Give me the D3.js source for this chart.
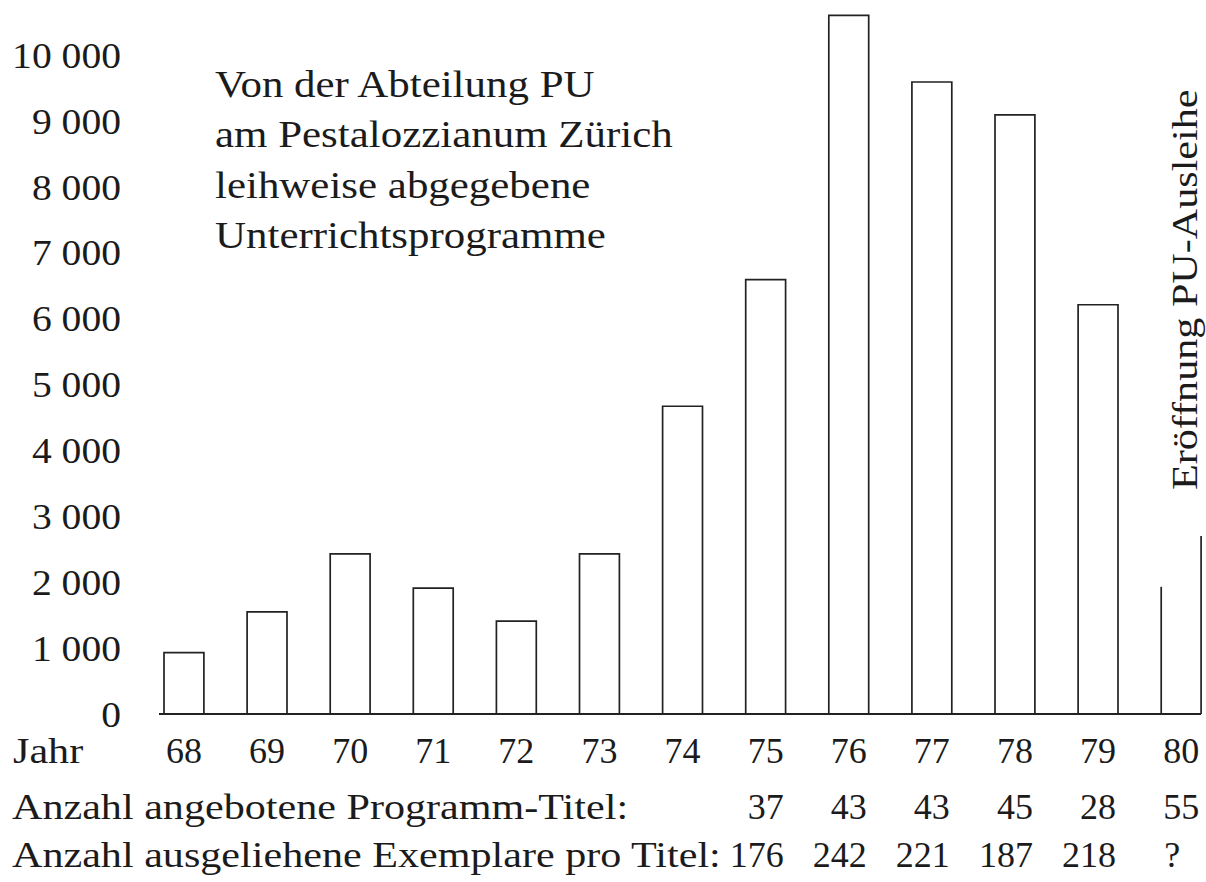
<!DOCTYPE html>
<html lang="de">
<head>
<meta charset="utf-8">
<title>PU-Ausleihe</title>
<script src="https://cdn.jsdelivr.net/npm/d3@7"></script>
<style>
  html, body { margin: 0; padding: 0; background: #fff; }
  svg { display: block; }
  text { font-family: "Liberation Serif", "Times New Roman", serif; fill: #1b1b1b; }
</style>
</head>
<body>
<div id="chart"></div>
<script>
// Ausgeliehene Unterrichtsprogramme pro Jahr (68-79 volle Jahre)
const years = ['68', '69', '70', '71', '72', '73', '74', '75', '76', '77', '78', '79', '80'];
const loans = [930, 1550, 2430, 1910, 1410, 2430, 4670, 6590, 10600, 9590, 9090, 6210];
// 1980 only partly drawn: height of left edge, height of right edge
const loans80 = [1930, 2700];
const yTicks = [0, 1000, 2000, 3000, 4000, 5000, 6000, 7000, 8000, 9000, 10000];

// table rows under the chart
const titleYears = ['75', '76', '77', '78', '79', '80'];
const titlesOffered = ['37', '43', '43', '45', '28', '55'];
const copiesPerTitle = ['176', '242', '221', '187', '218', '?'];

const titleLines = [
    'Von der Abteilung PU',
    'am Pestalozzianum Zürich',
    'leihweise abgegebene',
    'Unterrichtsprogramme',
];
const sideNote = 'Eröffnung PU-Ausleihe';
const rowLabels = ['Jahr', 'Anzahl angebotene Programm-Titel:', 'Anzahl ausgeliehene Exemplare pro Titel:'];

const width = 1206;
const height = 882;
const ink = '#1b1b1b';

// the typeface of the original is a little wider than Times
function stretch(sel, k) {
    sel.each(function () {
        const w = this.getComputedTextLength();
        this.setAttribute('textLength', (w * k).toFixed(1));
        this.setAttribute('lengthAdjust', 'spacingAndGlyphs');
    });
}

function drawChart() {
    const svg = d3.select('#chart').append('svg')
        .attr('width', width)
        .attr('height', height)
        .attr('viewBox', `0 0 ${width} ${height}`);

    const x = d3.scaleBand()
        .domain(years)
        .range([142.4, 1222.7])
        .paddingInner(0.52)
        .paddingOuter(0.26);

    const y = d3.scaleLinear()
        .domain([0, 10000])
        .range([714, 55]);

    const bw = x.bandwidth();

    // y labels, no axis line
    const fmt = d3.formatLocale({ decimal: ',', thousands: ' ', grouping: [3], currency: ['', ''] }).format(',');
    const yAxis = svg.append('g')
        .attr('transform', 'translate(121,0)')
        .attr('color', ink)
        .call(d3.axisLeft(y).tickValues(yTicks).tickFormat(fmt).tickSize(0).tickPadding(0));
    yAxis.select('.domain').remove();
    yAxis.selectAll('text')
        .attr('dy', '0.34em')
        .style('font-family', '"Liberation Serif", serif')
        .style('font-size', '36px');
    stretch(yAxis.selectAll('text'), 1.1);

    // bars, open at the bottom
    const bars = svg.append('g').attr('class', 'bars');
    bars.selectAll('path')
        .data(loans.map((v, i) => ({ year: years[i], v })))
        .join('path')
        .attr('d', d => {
            const x0 = x(d.year), x1 = x0 + bw;
            return `M${x0},${y(0)}V${y(d.v)}H${x1}V${y(0)}`;
        })
        .attr('fill', 'none')
        .attr('stroke', '#222')
        .attr('stroke-width', 1.7);

    // 1980: only the two side edges
    bars.selectAll('line')
        .data(loans80)
        .join('line')
        .attr('x1', (d, i) => x('80') + i * bw)
        .attr('x2', (d, i) => x('80') + i * bw)
        .attr('y1', y(0))
        .attr('y2', d => y(d))
        .attr('stroke', '#222')
        .attr('stroke-width', 1.7);

    // baseline
    svg.append('line')
        .attr('x1', x('68') - 5)
        .attr('x2', x('80') + bw)
        .attr('y1', y(0))
        .attr('y2', y(0))
        .attr('stroke', '#222')
        .attr('stroke-width', 2.2);

    // title block
    const title = svg.append('g').attr('class', 'title');
    title.selectAll('text')
        .data(titleLines)
        .join('text')
        .attr('x', 215)
        .attr('y', (d, i) => 97 + i * 50.4)
        .style('font-size', '37px')
        .text(d => d);
    stretch(title.selectAll('text'), 1.16);

    const note = svg.append('text')
        .attr('transform', 'translate(1197,490) rotate(-90)')
        .style('font-size', '36px')
        .text(sideNote);
    stretch(note, 1.17);

    // table under the chart
    const rowY = [763, 819, 867];
    const labels = svg.append('g').attr('class', 'row-labels');
    labels.selectAll('text')
        .data(rowLabels)
        .join('text')
        .attr('x', (d, i) => i === 0 ? 13 : 12)
        .attr('y', (d, i) => rowY[i])
        .style('font-size', '36px')
        .text(d => d);
    stretch(labels.selectAll('text'), 1.17);

    const mid = d => x(d) + bw / 2;

    svg.append('g').selectAll('text')
        .data(years)
        .join('text')
        .attr('x', d => mid(d))
        .attr('y', rowY[0])
        .attr('text-anchor', 'middle')
        .style('font-size', '36px')
        .text(d => d);

    svg.append('g').selectAll('text')
        .data(titlesOffered.map((v, i) => ({ year: titleYears[i], v })))
        .join('text')
        .attr('x', d => mid(d.year))
        .attr('y', rowY[1])
        .attr('text-anchor', 'middle')
        .style('font-size', '36px')
        .text(d => d.v);

    svg.append('g').selectAll('text')
        .data(copiesPerTitle.map((v, i) => ({ year: titleYears[i], v })))
        .join('text')
        .attr('x', d => mid(d.year) - 9)
        .attr('y', rowY[2])
        .attr('text-anchor', 'middle')
        .style('font-size', '36px')
        .text(d => d.v);
}

drawChart();
</script>
</body>
</html>
